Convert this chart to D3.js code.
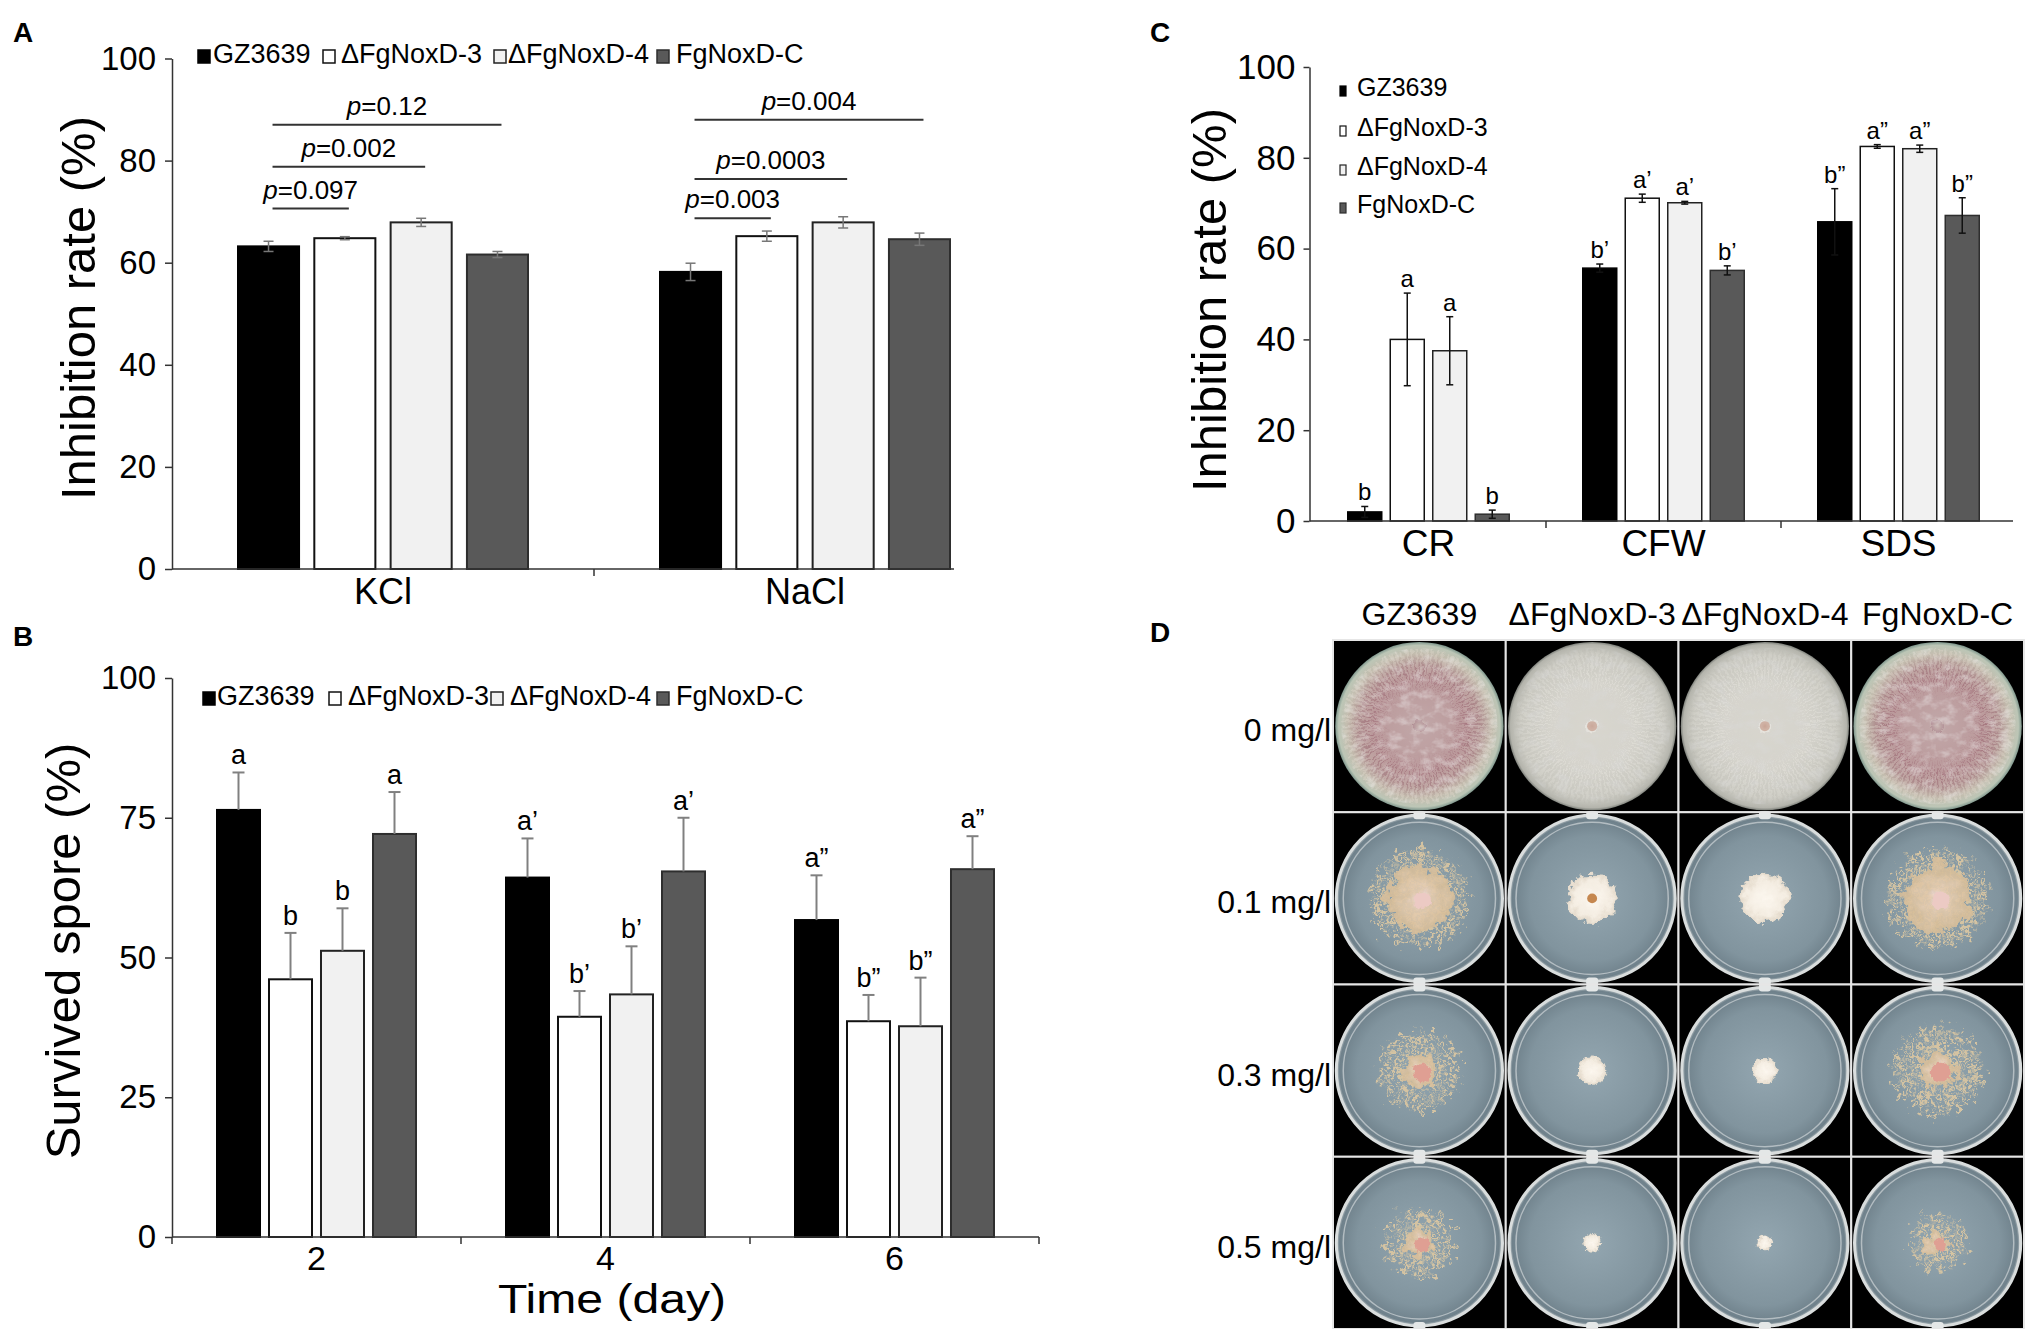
<!DOCTYPE html>
<html>
<head>
<meta charset="utf-8">
<script src="https://cdn.jsdelivr.net/npm/d3@7.9.0/dist/d3.min.js"></script>
<style>
  body { margin: 0; background: #fff; }
  svg { display: block; font-family: "Liberation Sans", Arial, sans-serif; }
</style>
</head>
<body>
<svg id="fig" width="2033" height="1329"></svg>
<script>
// ---------- data ----------
const strains = ['GZ3639', 'ΔFgNoxD-3', 'ΔFgNoxD-4', 'FgNoxD-C'];

// A: osmotic stress (inhibition rate %)
const saltCats = ['KCl', 'NaCl'];
const kclMean = [63.2, 64.8, 67.9, 61.6];
const kclErr = [1.0, 0.3, 0.8, 0.6];
const naclMean = [58.2, 65.2, 67.9, 64.6];
const naclErr = [1.7, 1.0, 1.1, 1.2];
const pLabels = ['0.097', '0.002', '0.12', '0.003', '0.0003', '0.004'];
const pCats = ['KCl', 'KCl', 'KCl', 'NaCl', 'NaCl', 'NaCl'];
const pVersus = [1, 2, 3, 1, 2, 3];

// B: survived spores (%) over time
const days = ['2', '4', '6'];
const day2Mean = [76.4, 46.1, 51.2, 72.1];
const day2Err = [6.7, 8.3, 7.6, 7.5];
const day4Mean = [64.3, 39.4, 43.4, 65.4];
const day4Err = [7.0, 4.6, 8.6, 9.6];
const day6Mean = [56.7, 38.6, 37.7, 65.8];
const day6Err = [8.0, 4.7, 8.7, 5.9];
const day2Letters = ['a', 'b', 'b', 'a'];
const day4Letters = ['a’', 'b’', 'b’', 'a’'];
const day6Letters = ['a”', 'b”', 'b”', 'a”'];

// C: cell wall / membrane stress (inhibition rate %)
const stressCats = ['CR', 'CFW', 'SDS'];
const crMean = [2.0, 40.0, 37.5, 1.5];
const crErr = [1.2, 10.2, 7.5, 0.9];
const cfwMean = [55.7, 71.1, 70.1, 55.2];
const cfwErr = [0.9, 0.9, 0.3, 1.0];
const sdsMean = [65.9, 82.5, 82.0, 67.3];
const sdsErr = [7.3, 0.4, 0.8, 3.9];
const crLetters = ['b', 'a', 'a', 'b'];
const cfwLetters = ['b’', 'a’', 'a’', 'b’'];
const sdsLetters = ['b”', 'a”', 'a”', 'b”'];

// D: plates, colony diameter as share of the plate
const doses = ['0 mg/l', '0.1 mg/l', '0.3 mg/l', '0.5 mg/l'];
const colony0 = [1, 1, 1, 1];
const colony01 = [0.65, 0.33, 0.33, 0.67];
const colony03 = [0.54, 0.19, 0.17, 0.6];
const colony05 = [0.46, 0.12, 0.1, 0.38];

// ---------- layout / style ----------
const fills = ['#000000', '#ffffff', '#f1f1f1', '#595959'];
const strokes = ['#000000', '#111111', '#222222', '#2e2e2e'];
const bracketLevel = [70.6, 78.8, 87.0, 68.7, 76.4, 88.0];

const svg = d3.select('#fig');
svg.append('rect').attr('width', 2033).attr('height', 1329).attr('fill', '#fff');

function panelLabel(t, x, y) {
  svg.append('text').attr('x', x).attr('y', y).attr('font-size', 28)
    .attr('font-weight', 'bold').text(t);
}

function yAxis(g, y, x0, ticks, size, pad, fs) {
  const ax = g.append('g').attr('transform', `translate(${x0},0)`)
    .call(d3.axisLeft(y).tickValues(ticks).tickSize(size).tickPadding(pad).tickSizeOuter(0));
  ax.select('.domain').attr('stroke', '#333').attr('stroke-width', 1.5);
  ax.selectAll('.tick line').attr('stroke', '#333').attr('stroke-width', 1.5);
  ax.selectAll('.tick text').attr('font-size', fs).attr('fill', '#000')
    .attr('font-family', '"Liberation Sans", Arial, sans-serif');
}

function xAxis(g, x, y0, xStart, xEnd, labelDy, endTick, fs) {
  g.append('line').attr('x1', xStart).attr('x2', xEnd).attr('y1', y0).attr('y2', y0)
    .attr('stroke', '#333').attr('stroke-width', 1.5);
  const bounds = x.domain().slice(1).map(c => x(c));
  if (endTick) bounds.push(x.range()[1], xStart);
  g.selectAll(null).data(bounds).join('line')
    .attr('x1', d => d).attr('x2', d => d).attr('y1', y0).attr('y2', y0 + 7)
    .attr('stroke', '#333').attr('stroke-width', 1.5);
  g.selectAll(null).data(x.domain()).join('text')
    .attr('x', d => x(d) + x.bandwidth() / 2).attr('y', y0 + labelDy)
    .attr('text-anchor', 'middle').attr('font-size', fs).text(d => d);
}

function yTitle(t, x, y) {
  svg.append('text').attr('transform', `translate(${x},${y}) rotate(-90)`)
    .attr('text-anchor', 'middle').attr('font-size', 49).text(t);
}

function drawGroups(g, cfg) {
  const { x, y, cats, means, errs, letters } = cfg;
  const inner = d3.scaleBand().domain(d3.range(strains.length))
    .range([-cfg.groupW / 2, cfg.groupW / 2]).paddingInner(cfg.padIn);
  cats.forEach((c, ci) => {
    const cx = x(c) + x.bandwidth() / 2;
    const gg = g.append('g').attr('transform', `translate(${cx},0)`);
    const rows = means[ci].map((m, i) => ({ i, m, e: errs[ci][i], l: letters ? letters[ci][i] : null }));
    gg.selectAll('rect').data(rows).join('rect')
      .attr('x', d => inner(d.i)).attr('width', inner.bandwidth())
      .attr('y', d => y(d.m)).attr('height', d => y(0) - y(d.m))
      .attr('fill', d => fills[d.i]).attr('stroke', d => strokes[d.i])
      .attr('stroke-width', cfg.barStroke);
    const eb = gg.selectAll('g.err').data(rows).join('g').attr('class', 'err')
      .attr('transform', d => `translate(${inner(d.i) + inner.bandwidth() / 2},0)`)
      .attr('stroke', cfg.errColor).attr('stroke-width', cfg.errW);
    eb.append('line').attr('y1', d => y(d.m + d.e)).attr('y2', d => cfg.errUp ? y(d.m) : y(d.m - d.e));
    eb.append('line').attr('x1', -cfg.capW / 2).attr('x2', cfg.capW / 2)
      .attr('y1', d => y(d.m + d.e)).attr('y2', d => y(d.m + d.e));
    if (!cfg.errUp) {
      eb.append('line').attr('x1', -cfg.capW / 2).attr('x2', cfg.capW / 2)
        .attr('y1', d => y(d.m - d.e)).attr('y2', d => y(d.m - d.e));
    }
    if (letters) {
      gg.selectAll('text.sig').data(rows).join('text').attr('class', 'sig')
        .attr('x', d => inner(d.i) + inner.bandwidth() / 2)
        .attr('y', d => y(d.m + d.e) - cfg.letterGap)
        .attr('text-anchor', 'middle').attr('font-size', cfg.letterSize).text(d => d.l);
    }
  });
  return inner;
}

// ---------- panel A ----------
panelLabel('A', 13, 42);
const gA = svg.append('g');
const yA = d3.scaleLinear().domain([0, 100]).range([569, 58.5]);
const xA = d3.scaleBand().domain(saltCats).range([172, 1016]);
const innerA = drawGroups(gA, {
  x: xA, y: yA, cats: saltCats, means: [kclMean, naclMean], errs: [kclErr, naclErr],
  groupW: 290, padIn: 0.2, barStroke: 2, errColor: '#777', errW: 1.5, capW: 10, errUp: false
});
yAxis(gA, yA, 172, d3.range(0, 101, 20), 7, 9, 33);
xAxis(gA, xA, yA(0), 172, 954, 35, false, 36);
yTitle('Inhibition rate (%)', 95, 308);

// p-value brackets
pLabels.forEach((lab, k) => {
  const cx = xA(pCats[k]) + xA.bandwidth() / 2;
  const x1 = cx + innerA(0) + innerA.bandwidth() / 2 + 4;
  const x2 = cx + innerA(pVersus[k]) + innerA.bandwidth() / 2 + 4;
  const ly = yA(bracketLevel[k]);
  gA.append('line').attr('x1', x1).attr('x2', x2).attr('y1', ly).attr('y2', ly)
    .attr('stroke', '#333').attr('stroke-width', 2);
  const t = gA.append('text').attr('x', (x1 + x2) / 2).attr('y', ly - 10)
    .attr('text-anchor', 'middle').attr('font-size', 26);
  t.append('tspan').attr('font-style', 'italic').text('p');
  t.append('tspan').text('=' + lab);
});

function hLegend(g, xs, txs, baseline, size) {
  strains.forEach((s, i) => {
    g.append('rect').attr('x', xs[i]).attr('y', baseline - 13).attr('width', 12).attr('height', 13)
      .attr('fill', fills[i]).attr('stroke', strokes[i]).attr('stroke-width', 1.5);
    g.append('text').attr('x', txs[i]).attr('y', baseline).attr('font-size', size).text(s);
  });
}
hLegend(gA, [198, 323, 494, 657], [213, 341, 508, 676], 63, 27);

// ---------- panel B ----------
panelLabel('B', 13, 646);
const gB = svg.append('g');
const yB = d3.scaleLinear().domain([0, 100]).range([1237, 678]);
const xB = d3.scaleBand().domain(days).range([172, 1039]);
drawGroups(gB, {
  x: xB, y: yB, cats: days, means: [day2Mean, day4Mean, day6Mean], errs: [day2Err, day4Err, day6Err],
  letters: [day2Letters, day4Letters, day6Letters],
  groupW: 199, padIn: 0.173, barStroke: 2, errColor: '#808080', errW: 2, capW: 12, errUp: true,
  letterSize: 27, letterGap: 8
});
yAxis(gB, yB, 172, [0, 25, 50, 75, 100], 7, 9, 33);
xAxis(gB, xB, yB(0), 172, 1039, 33, true, 34);
yTitle('Survived spore (%)', 80, 951);
gB.append('text').attr('x', 612).attr('y', 1313).attr('text-anchor', 'middle')
  .attr('font-size', 41).attr('textLength', 228).attr('lengthAdjust', 'spacingAndGlyphs')
  .text('Time (day)');
hLegend(gB, [203, 329, 491, 657], [217, 348, 510, 676], 705, 27);

// ---------- panel C ----------
panelLabel('C', 1150, 42);
const gC = svg.append('g');
const yC = d3.scaleLinear().domain([0, 100]).range([521, 67]);
const xC = d3.scaleBand().domain(stressCats).range([1311, 2016]);
drawGroups(gC, {
  x: xC, y: yC, cats: stressCats, means: [crMean, cfwMean, sdsMean], errs: [crErr, cfwErr, sdsErr],
  letters: [crLetters, cfwLetters, sdsLetters],
  groupW: 161.5, padIn: 0.2, barStroke: 1.5, errColor: '#111', errW: 1.5, capW: 7, errUp: false,
  letterSize: 24, letterGap: 6
});
yAxis(gC, yC, 1309.5, d3.range(0, 101, 20), 6, 8, 35);
xAxis(gC, xC, yC(0), 1309.5, 2013, 35, false, 37);
yTitle('Inhibition rate (%)', 1226, 300);
strains.forEach((s, i) => {
  const by = [96, 136, 175, 213][i];
  gC.append('rect').attr('x', 1340).attr('y', by - 10).attr('width', 6).attr('height', 10)
    .attr('fill', fills[i]).attr('stroke', strokes[i]).attr('stroke-width', 1.2);
  gC.append('text').attr('x', 1357).attr('y', by).attr('font-size', 25).text(s);
});

// ---------- panel D ----------
panelLabel('D', 1150, 642);
const gD = svg.append('g');
const colX = d3.scaleBand().domain(strains).range([1333, 2024]);
const rowY = d3.scaleBand().domain(doses).range([640, 1329]);
const colonies = [colony0, colony01, colony03, colony05];

const defs = svg.append('defs');
function radial(id, stops) {
  const gr = defs.append('radialGradient').attr('id', id);
  stops.forEach(([o, c, a]) => gr.append('stop').attr('offset', o).attr('stop-color', c)
    .attr('stop-opacity', a === undefined ? 1 : a));
}
radial('agar', [[0, '#93a6b0'], [0.75, '#81949e'], [0.96, '#6f818b'], [1, '#c9cfd0']]);
radial('pinkMat', [[0, '#c9b6b2'], [0.1, '#ad8890'], [0.55, '#a5767f'], [0.72, '#ad8a8c'], [0.86, '#c3bcae'], [0.96, '#bcc6b6'], [1, '#7e968c']]);
radial('whiteMat', [[0, '#c39c90'], [0.04, '#e6e3dc'], [0.5, '#e2e0d9'], [0.85, '#cfcec6'], [0.97, '#b4b4ac'], [1, '#7d807a']]);
radial('tanCol', [[0, '#eed6cc'], [0.35, '#e4cbae'], [1, '#d6bd98']]);
radial('creamCol', [[0, '#fcf7ef'], [0.7, '#f4ede2'], [1, '#e4dacb']]);

function ragged(id, freq, scale, seed) {
  const f = defs.append('filter').attr('id', id).attr('x', '-40%').attr('y', '-40%')
    .attr('width', '180%').attr('height', '180%');
  f.append('feTurbulence').attr('type', 'fractalNoise').attr('baseFrequency', freq)
    .attr('numOctaves', 3).attr('seed', seed).attr('result', 'n');
  f.append('feDisplacementMap').attr('in', 'SourceGraphic').attr('in2', 'n').attr('scale', scale)
    .attr('xChannelSelector', 'R').attr('yChannelSelector', 'G');
}
ragged('rag1', 0.09, 26, 5);
ragged('rag2', 0.12, 14, 9);
ragged('rag3', 0.2, 6, 4);

// thin, broken texture for the spreading mycelium
const sp = defs.append('filter').attr('id', 'sparse').attr('x', '-40%').attr('y', '-40%')
  .attr('width', '180%').attr('height', '180%');
sp.append('feTurbulence').attr('type', 'fractalNoise').attr('baseFrequency', 0.16)
  .attr('numOctaves', 2).attr('seed', 6).attr('result', 'n');
sp.append('feColorMatrix').attr('in', 'n').attr('type', 'matrix')
  .attr('values', '0 0 0 0 1 0 0 0 0 1 0 0 0 0 1 5 0 0 0 -2.2').attr('result', 'm');
sp.append('feComposite').attr('in', 'SourceGraphic').attr('in2', 'm').attr('operator', 'in').attr('result', 's');
sp.append('feDisplacementMap').attr('in', 's').attr('in2', 'n').attr('scale', 30)
  .attr('xChannelSelector', 'R').attr('yChannelSelector', 'G');

function mottle(id, rgb, seed, freq) {
  const f = defs.append('filter').attr('id', id);
  f.append('feTurbulence').attr('type', 'fractalNoise').attr('baseFrequency', freq)
    .attr('numOctaves', 3).attr('seed', seed).attr('result', 'n');
  f.append('feColorMatrix').attr('in', 'n').attr('type', 'matrix')
    .attr('values', `0 0 0 0 ${rgb} 0 0 0 0 ${rgb} 0 0 0 0 ${rgb} 3 0 0 0 -1.35`).attr('result', 'w');
  f.append('feComposite').attr('in', 'w').attr('in2', 'SourceGraphic').attr('operator', 'in');
}
mottle('mottleLight', 0.9, 11, '0.09 0.12');
mottle('mottleGrey', 0.7, 23, '0.07 0.1');

const pigmented = [true, false, false, true];
const spokeAngles = d3.range(0, 360, 4);

doses.forEach((dose, di) => {
  strains.forEach((s, si) => {
    const x0 = colX(s), y0 = rowY(dose), w = colX.bandwidth(), h = rowY.bandwidth();
    const cx = x0 + w / 2, cy = y0 + h / 2, R = Math.min(w, h) / 2 - 3;
    const cell = gD.append('g');
    cell.append('rect').attr('x', x0).attr('y', y0).attr('width', w).attr('height', h).attr('fill', '#000');
    const frac = colonies[di][si];
    if (di === 0) {
      cell.append('circle').attr('cx', cx).attr('cy', cy).attr('r', R + 1)
        .attr('fill', pigmented[si] ? 'url(#pinkMat)' : 'url(#whiteMat)');
      // radial hyphal streaks
      cell.append('g').attr('filter', 'url(#rag3)')
        .attr('stroke', pigmented[si] ? '#e4dcd0' : '#b9b8b0')
        .attr('stroke-width', 2.5).attr('opacity', pigmented[si] ? 0.35 : 0.3)
        .selectAll('line').data(spokeAngles).join('line')
        .attr('x1', a => cx + Math.cos(a * Math.PI / 180) * R * 0.08)
        .attr('y1', a => cy + Math.sin(a * Math.PI / 180) * R * 0.08)
        .attr('x2', a => cx + Math.cos(a * Math.PI / 180) * R * 0.93)
        .attr('y2', a => cy + Math.sin(a * Math.PI / 180) * R * 0.93);
      cell.append('circle').attr('cx', cx).attr('cy', cy).attr('r', R * 0.94)
        .attr('fill', '#fff').attr('opacity', 0.35)
        .attr('filter', pigmented[si] ? 'url(#mottleLight)' : 'url(#mottleGrey)');
      if (!pigmented[si]) {
        cell.append('circle').attr('cx', cx).attr('cy', cy).attr('r', 5).attr('fill', '#c9a596').attr('opacity', 0.8);
      }
    } else {
      cell.append('circle').attr('cx', cx).attr('cy', cy).attr('r', R).attr('fill', 'url(#agar)')
        .attr('stroke', '#d9dddd').attr('stroke-width', 3);
      cell.append('circle').attr('cx', cx).attr('cy', cy).attr('r', R - 7).attr('fill', 'none')
        .attr('stroke', '#c3cbce').attr('stroke-width', 1.5).attr('opacity', 0.8);
      [cy - R, cy + R].forEach(ty => cell.append('rect').attr('x', cx - 6).attr('y', ty - 4)
        .attr('width', 12).attr('height', 8).attr('rx', 3).attr('fill', '#e4e7e7'));
      const r = frac * R;
      if (pigmented[si]) {
        cell.append('circle').attr('cx', cx).attr('cy', cy).attr('r', r * 0.9)
          .attr('fill', '#ddc8a2').attr('opacity', 0.9).attr('filter', 'url(#sparse)');
        cell.append('circle').attr('cx', cx).attr('cy', cy).attr('r', r * (di === 1 ? 0.62 : 0.36))
          .attr('fill', 'url(#tanCol)').attr('opacity', 0.9).attr('filter', 'url(#rag1)');
        cell.append('circle').attr('cx', cx + 3).attr('cy', cy + 2).attr('r', r * (di === 1 ? 0.16 : 0.2))
          .attr('fill', di === 1 ? '#eccac4' : '#df9f93').attr('filter', 'url(#rag3)');
      } else {
        cell.append('circle').attr('cx', cx).attr('cy', cy).attr('r', r * 0.9)
          .attr('fill', 'url(#creamCol)').attr('filter', di === 1 ? 'url(#rag2)' : 'url(#rag3)');
        if (di === 1 && si === 1) {
          cell.append('circle').attr('cx', cx).attr('cy', cy).attr('r', r * 0.18).attr('fill', '#c5874f');
        }
      }
    }
    cell.append('rect').attr('x', x0).attr('y', y0).attr('width', w).attr('height', h)
      .attr('fill', 'none').attr('stroke', '#e6e6e6').attr('stroke-width', 2);
  });
});

gD.selectAll('text.col').data(strains).join('text').attr('class', 'col')
  .attr('x', d => colX(d) + colX.bandwidth() / 2).attr('y', 625)
  .attr('text-anchor', 'middle').attr('font-size', 32).text(d => d);
gD.selectAll('text.row').data(doses).join('text').attr('class', 'row')
  .attr('x', 1331).attr('y', d => rowY(d) + rowY.bandwidth() / 2 + 15)
  .attr('text-anchor', 'end').attr('font-size', 32).text(d => d);
</script>
</body>
</html>
